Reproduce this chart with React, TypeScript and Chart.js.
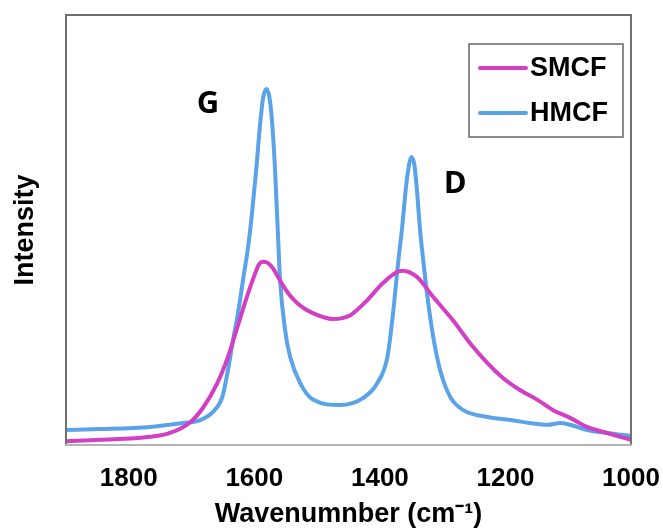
import React, { useEffect, useRef } from "react";
import { Chart, registerables } from "chart.js";

Chart.register(...registerables);

// Wavenumber (cm-1) and intensity (arbitrary units, 0-100)
const smcfX = [1900, 1846, 1766, 1734, 1702, 1682, 1659, 1642, 1627, 1612, 1599, 1593, 1586, 1578, 1570, 1562, 1554, 1546, 1538, 1527, 1506, 1475, 1447, 1420, 1395, 1365, 1341, 1315, 1283, 1256, 1229, 1204, 1177, 1149, 1124, 1097, 1070, 1038, 1000];
const smcfY = [0.9, 1.2, 1.9, 2.8, 5.3, 8.6, 14.4, 20.5, 27.4, 34.4, 39.8, 41.9, 42.6, 42.3, 41.0, 39.0, 37.0, 35.3, 33.9, 32.4, 30.6, 29.3, 30.2, 33.7, 37.7, 40.5, 39.1, 34.4, 28.9, 23.6, 19.1, 15.6, 12.8, 10.5, 8.1, 6.3, 4.2, 2.8, 1.2];

const hmcfX = [1900, 1846, 1766, 1714, 1686, 1666, 1651, 1642, 1634, 1626, 1618, 1610, 1604, 1597, 1591, 1586, 1581, 1576, 1572, 1567, 1562, 1559, 1551, 1543, 1527, 1506, 1463, 1427, 1404, 1388, 1379, 1371, 1365, 1358, 1353, 1350, 1345, 1341, 1336, 1331, 1325, 1315, 1304, 1288, 1267, 1229, 1192, 1161, 1133, 1113, 1097, 1070, 1038, 1000];
const hmcfY = [3.5, 3.7, 4.2, 5.1, 5.8, 7.7, 11.2, 17.4, 24.4, 30.7, 38.4, 46.0, 53.5, 64.0, 74.4, 80.7, 82.8, 80.9, 75.6, 64.0, 47.7, 38.4, 26.7, 20.5, 14.4, 10.5, 9.3, 10.9, 14.4, 20.5, 30.7, 42.3, 50.0, 60.5, 65.6, 67.0, 65.1, 59.3, 50.0, 43.0, 35.3, 25.1, 17.4, 11.2, 8.1, 6.5, 5.8, 5.1, 4.7, 5.1, 4.7, 3.5, 2.8, 2.1];

const seriesNames = ["SMCF", "HMCF"];
const seriesColors = ["#d23ec4", "#5ba3e8"];
const xTicks = [1000, 1200, 1400, 1600, 1800];
const xMin = 1000;
const xMax = 1900;
const peakLabels = ["G", "D"];
const peakLabelX = [1674, 1280];
const peakLabelY = [79.3, 60.7];

const boxPlugin = {
  id: "boxAndLegend",
  afterDatasetsDraw(chart: any) {
    const { ctx, chartArea, scales } = chart;
    const { left, right, top, bottom } = chartArea;
    ctx.save();
    // frame
    ctx.lineWidth = 2;
    ctx.strokeStyle = "#707070";
    ctx.beginPath();
    ctx.moveTo(left, bottom);
    ctx.lineTo(left, top);
    ctx.lineTo(right, top);
    ctx.lineTo(right, bottom);
    ctx.stroke();
    ctx.strokeStyle = "#b4b4b4";
    ctx.beginPath();
    ctx.moveTo(left - 1, bottom);
    ctx.lineTo(right + 1, bottom);
    ctx.stroke();

    // peak labels
    ctx.fillStyle = "#000";
    ctx.font = "bold 31px 'Open Sans'";
    ctx.textAlign = "center";
    ctx.textBaseline = "middle";
    peakLabels.forEach((t, i) => {
      ctx.fillText(t, scales.x.getPixelForValue(peakLabelX[i]), scales.y.getPixelForValue(peakLabelY[i]));
    });

    // legend
    const bw = 154, bh = 93;
    const bx = right - 8 - bw;
    const by = top + 29;
    ctx.fillStyle = "#fff";
    ctx.fillRect(bx, by, bw, bh);
    ctx.lineWidth = 1.5;
    ctx.strokeStyle = "#666";
    ctx.strokeRect(bx, by, bw, bh);
    ctx.font = "bold 27px 'Liberation Sans'";
    ctx.textAlign = "left";
    ctx.textBaseline = "middle";
    chart.data.datasets.forEach((ds: any, i: number) => {
      const y = by + 24 + i * 45;
      ctx.strokeStyle = ds.borderColor;
      ctx.lineWidth = 4;
      ctx.lineCap = "round";
      ctx.beginPath();
      ctx.moveTo(bx + 11, y);
      ctx.lineTo(bx + 57, y);
      ctx.stroke();
      ctx.fillStyle = "#000";
      ctx.fillText(ds.label, bx + 61, y + 1);
    });
    ctx.restore();
  },
};

export default function App() {
  const ref = useRef<HTMLCanvasElement | null>(null);
  useEffect(() => {
    if (!ref.current) return;
    const toPts = (xs: number[], ys: number[]) => xs.map((x, i) => ({ x, y: ys[i] }));
    const chart = new Chart(ref.current, {
      type: "line",
      data: {
        datasets: [
          {
            label: seriesNames[0],
            data: toPts(smcfX, smcfY),
            borderColor: seriesColors[0],
            borderWidth: 4,
            pointRadius: 0,
            cubicInterpolationMode: "monotone",
            fill: false,
          },
          {
            label: seriesNames[1],
            data: toPts(hmcfX, hmcfY),
            borderColor: seriesColors[1],
            borderWidth: 4,
            pointRadius: 0,
            cubicInterpolationMode: "monotone",
            fill: false,
          },
        ],
      },
      options: {
        animation: false,
        responsive: false,
        layout: { padding: { left: 0, top: 15, right: 32, bottom: 0 } },
        plugins: { legend: { display: false }, tooltip: { enabled: false } },
        scales: {
          x: {
            type: "linear",
            reverse: true,
            min: xMin,
            max: xMax,
            grid: { display: false, drawTicks: false },
            border: { display: false },
            afterBuildTicks: (s: any) => {
              s.ticks = xTicks.map((v) => ({ value: v }));
            },
            afterFit: (s: any) => {
              s.height = 85;
            },
            ticks: {
              color: "#000",
              padding: 18,
              maxRotation: 0,
              autoSkip: false,
              callback: (v: any) => String(v),
              font: { family: "'Liberation Sans'", size: 26, weight: "bold" },
            },
            title: {
              display: true,
              text: "Wavenumnber (cm\u207B\u00B9)",
              color: "#000",
              padding: { top: 0, bottom: -1 },
              font: { family: "'Liberation Sans'", size: 27, weight: "bold" },
            },
          },
          y: {
            type: "linear",
            min: 0,
            max: 100,
            grid: { display: false, drawTicks: false },
            border: { display: false },
            ticks: { display: false },
            afterFit: (s: any) => {
              s.width = 66;
            },
            title: {
              display: true,
              text: "Intensity",
              color: "#000",
              padding: { top: 9, bottom: 0 },
              font: { family: "'Liberation Sans'", size: 27, weight: "bold" },
            },
          },
        },
      },
      plugins: [boxPlugin],
    } as any);
    return () => chart.destroy();
  }, []);
  return (
    <div style={{ position: "fixed", left: 0, top: 0, width: 663, height: 530, background: "#fff" }}>
      <canvas ref={ref} width={663} height={530} />
    </div>
  );
}
